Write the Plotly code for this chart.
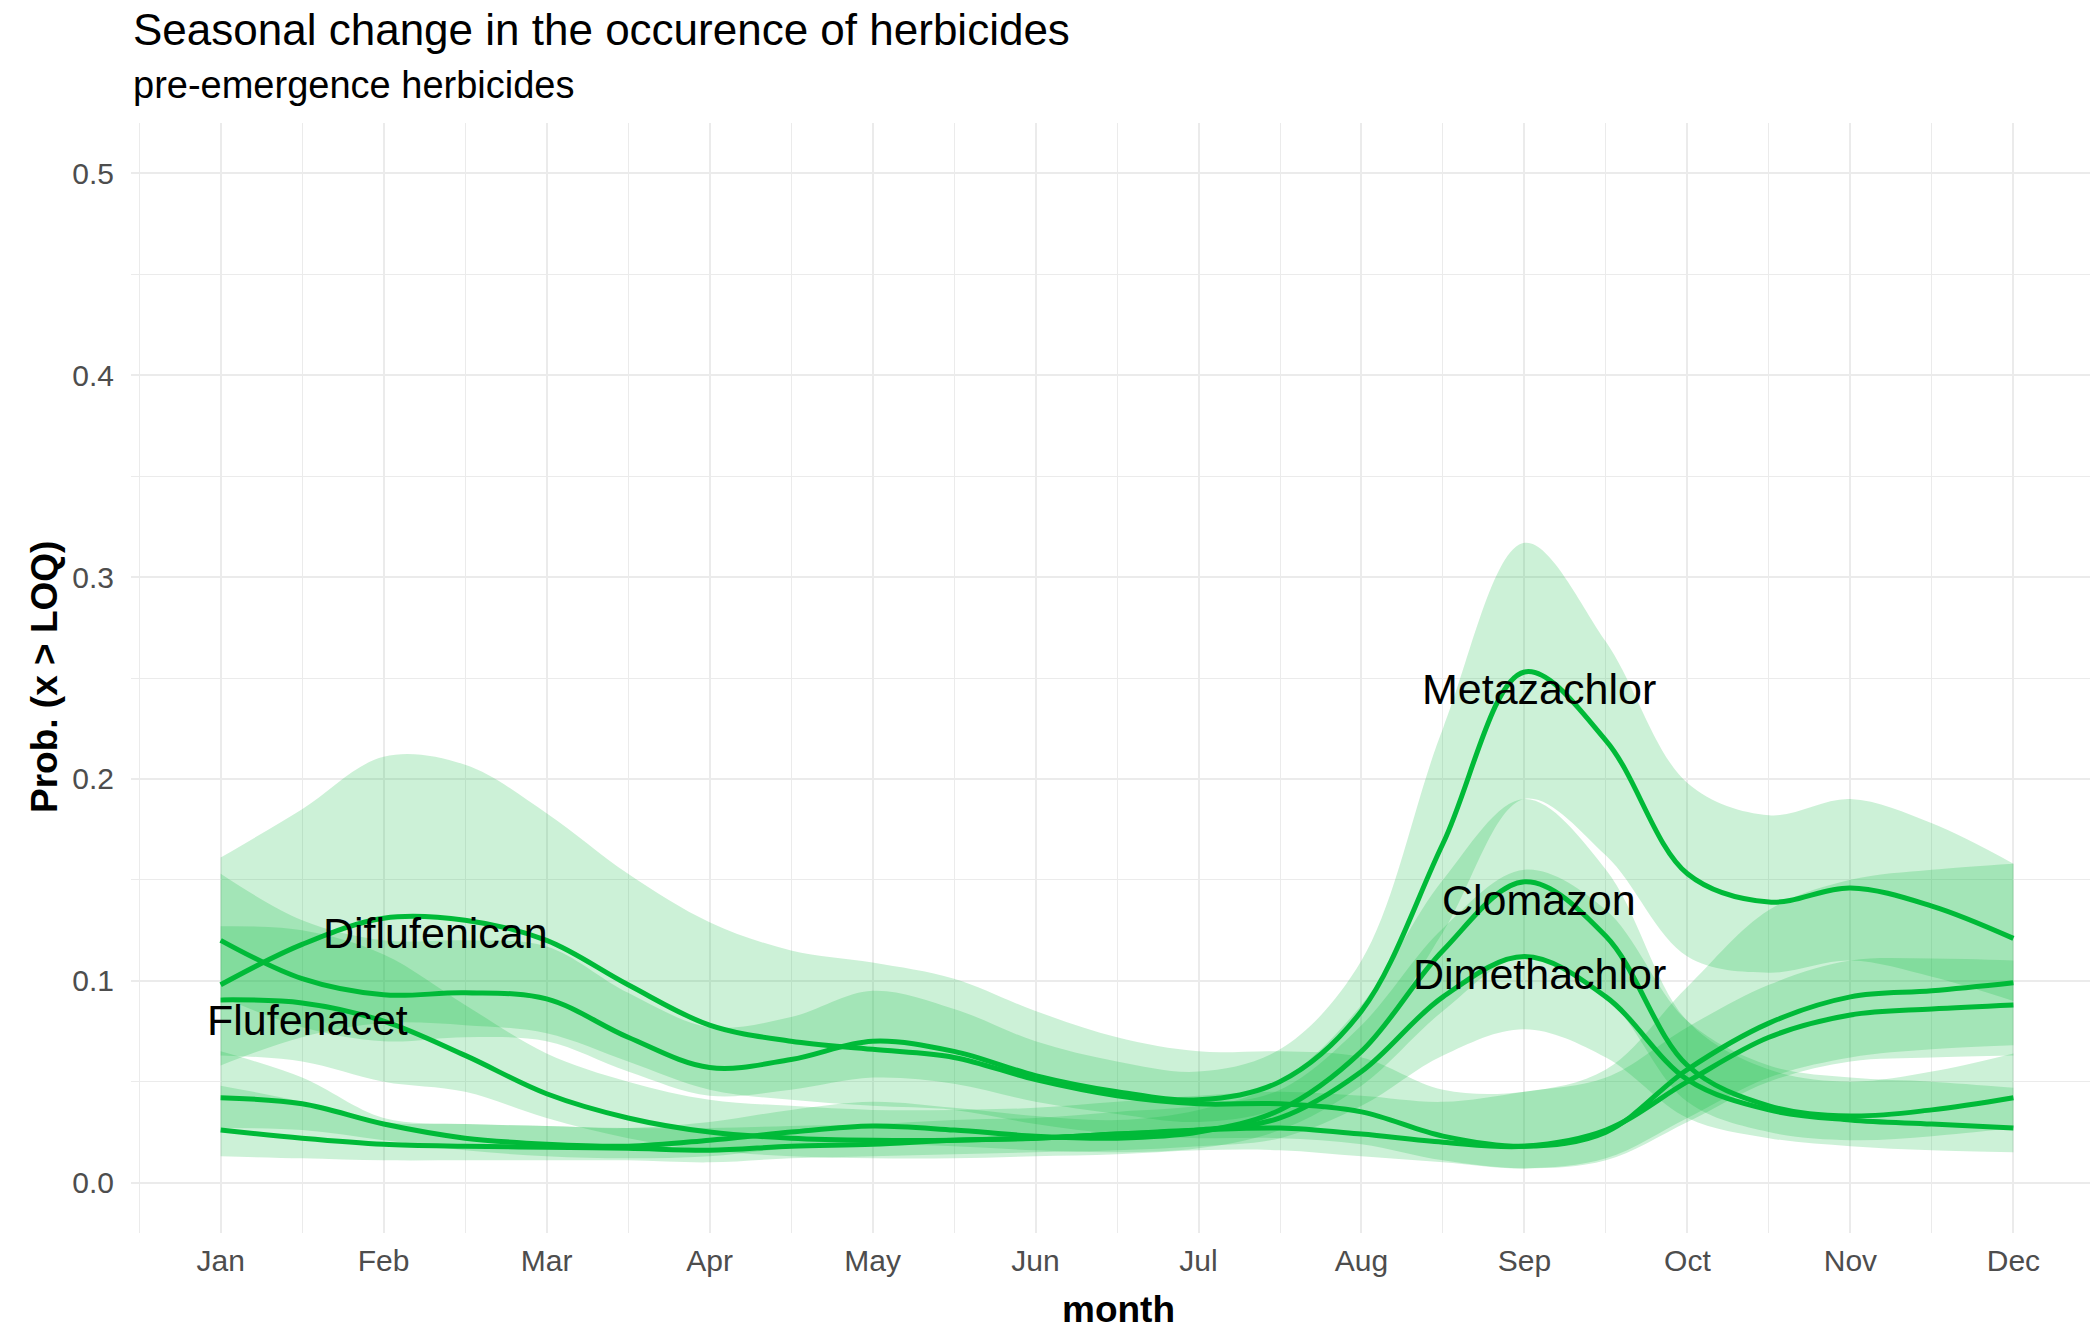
import plotly.graph_objects as go

# ---- data -----------------------------------------------------------------
months = [1, 1.5, 2, 2.5, 3, 3.5, 4, 4.5, 5, 5.5, 6, 6.5,
          7, 7.5, 8, 8.5, 9, 9.5, 10, 10.5, 11, 11.5, 12]
month_ticks = [1, 2, 3, 4, 5, 6, 7, 8, 9, 10, 11, 12]
month_labels = ["Jan", "Feb", "Mar", "Apr", "May", "Jun",
                "Jul", "Aug", "Sep", "Oct", "Nov", "Dec"]
prob_ticks = [0.0, 0.1, 0.2, 0.3, 0.4, 0.5]

metazachlor_fit = [0.120, 0.101, 0.093, 0.094, 0.091, 0.072, 0.057, 0.061, 0.070, 0.065, 0.053, 0.045,
                   0.041, 0.050, 0.085, 0.168, 0.253, 0.219, 0.153, 0.139, 0.146, 0.137, 0.121]
metazachlor_lo = [0.092, 0.077, 0.070, 0.072, 0.070, 0.055, 0.043, 0.046, 0.052, 0.049, 0.040, 0.034,
                  0.030, 0.037, 0.064, 0.124, 0.190, 0.162, 0.112, 0.104, 0.110, 0.102, 0.090]
metazachlor_hi = [0.153, 0.130, 0.120, 0.120, 0.117, 0.094, 0.077, 0.082, 0.095, 0.086, 0.070, 0.060,
                  0.055, 0.066, 0.110, 0.225, 0.317, 0.268, 0.198, 0.182, 0.190, 0.178, 0.158]

diflufenican_fit = [0.098, 0.118, 0.131, 0.130, 0.120, 0.098, 0.078, 0.070, 0.066, 0.062, 0.051, 0.043,
                    0.039, 0.039, 0.035, 0.023, 0.018, 0.025, 0.056, 0.079, 0.092, 0.095, 0.099]
diflufenican_lo = [0.058, 0.072, 0.079, 0.078, 0.074, 0.060, 0.046, 0.041, 0.038, 0.036, 0.029, 0.024,
                   0.022, 0.022, 0.019, 0.011, 0.007, 0.011, 0.030, 0.050, 0.060, 0.062, 0.063]
diflufenican_hi = [0.161, 0.185, 0.211, 0.207, 0.183, 0.153, 0.129, 0.115, 0.109, 0.101, 0.085, 0.072,
                   0.065, 0.065, 0.062, 0.046, 0.045, 0.056, 0.097, 0.135, 0.150, 0.155, 0.158]

flufenacet_fit = [0.0905, 0.089, 0.080, 0.063, 0.044, 0.032, 0.025, 0.022, 0.021, 0.021, 0.022, 0.024,
                  0.026, 0.027, 0.024, 0.020, 0.018, 0.026, 0.050, 0.072, 0.083, 0.086, 0.088]
flufenacet_lo = [0.063, 0.060, 0.050, 0.045, 0.032, 0.022, 0.016, 0.013, 0.012, 0.012, 0.013, 0.014,
                 0.016, 0.016, 0.013, 0.010, 0.007, 0.012, 0.032, 0.052, 0.062, 0.066, 0.068]
flufenacet_hi = [0.127, 0.125, 0.113, 0.088, 0.064, 0.050, 0.041, 0.038, 0.036, 0.036, 0.037, 0.040,
                 0.043, 0.045, 0.043, 0.040, 0.045, 0.052, 0.077, 0.098, 0.110, 0.111, 0.110]

clomazon_fit = [0.042, 0.039, 0.029, 0.022, 0.019, 0.018, 0.021, 0.025, 0.028, 0.026, 0.023, 0.022,
                0.025, 0.036, 0.065, 0.115, 0.149, 0.122, 0.058, 0.038, 0.033, 0.036, 0.042]
clomazon_lo = [0.027, 0.026, 0.021, 0.016, 0.013, 0.012, 0.013, 0.017, 0.019, 0.018, 0.016, 0.015,
               0.017, 0.026, 0.048, 0.085, 0.112, 0.092, 0.040, 0.025, 0.021, 0.023, 0.027]
clomazon_hi = [0.065, 0.052, 0.032, 0.029, 0.028, 0.027, 0.030, 0.036, 0.040, 0.037, 0.033, 0.031,
               0.036, 0.050, 0.088, 0.150, 0.190, 0.155, 0.080, 0.056, 0.050, 0.055, 0.064]

dimethachlor_fit = [0.026, 0.022, 0.019, 0.018, 0.0175, 0.017, 0.016, 0.018, 0.019, 0.021, 0.022, 0.024,
                    0.026, 0.032, 0.055, 0.092, 0.112, 0.092, 0.051, 0.036, 0.031, 0.029, 0.027]
dimethachlor_lo = [0.013, 0.012, 0.011, 0.011, 0.011, 0.011, 0.010, 0.012, 0.013, 0.014, 0.015, 0.016,
                   0.018, 0.022, 0.038, 0.063, 0.076, 0.062, 0.032, 0.022, 0.018, 0.016, 0.015]
dimethachlor_hi = [0.048, 0.040, 0.030, 0.029, 0.028, 0.027, 0.027, 0.028, 0.029, 0.031, 0.032, 0.035,
                   0.038, 0.046, 0.078, 0.126, 0.155, 0.135, 0.080, 0.058, 0.052, 0.050, 0.047]

herbicides = ["Metazachlor", "Diflufenican", "Flufenacet", "Clomazon", "Dimethachlor"]
fits = [metazachlor_fit, diflufenican_fit, flufenacet_fit, clomazon_fit, dimethachlor_fit]
lows = [metazachlor_lo, diflufenican_lo, flufenacet_lo, clomazon_lo, dimethachlor_lo]
highs = [metazachlor_hi, diflufenican_hi, flufenacet_hi, clomazon_hi, dimethachlor_hi]

# label anchor positions (month, probability) for each herbicide name
label_month = [9.09, 2.32, 1.53, 9.09, 9.09]
label_prob = [0.2445, 0.1235, 0.0805, 0.1400, 0.1035]

# ---- styling --------------------------------------------------------------
GREEN = "#00BA38"
RIBBON = "rgba(0,186,56,0.2)"
FONT = "Liberation Sans"
W, H = 2090, 1330
L, R, T, B = 131, 0, 123, 97

fig = go.Figure()

# confidence ribbons first, lines on top
for lo, hi in zip(lows, highs):
    fig.add_trace(go.Scatter(x=months, y=lo, mode="lines",
                             line=dict(width=0, shape="spline", color=RIBBON),
                             hoverinfo="skip", showlegend=False))
    fig.add_trace(go.Scatter(x=months, y=hi, mode="lines", fill="tonexty",
                             fillcolor=RIBBON,
                             line=dict(width=0, shape="spline", color=RIBBON),
                             hoverinfo="skip", showlegend=False))

for name, fit in zip(herbicides, fits):
    fig.add_trace(go.Scatter(x=months, y=fit, mode="lines", name=name,
                             line=dict(width=5, shape="spline", color=GREEN),
                             showlegend=False))

for name, mx, py in zip(herbicides, label_month, label_prob):
    fig.add_annotation(x=mx, y=py, xref="x", yref="y", text=name, showarrow=False,
                       font=dict(family=FONT, size=43, color="#000000"),
                       xanchor="center", yanchor="middle")


def px_x(p):
    return (p - L) / (W - L - R)


def px_y(p):
    return (H - B - p) / (H - B - T)


# title, subtitle and axis titles
fig.add_annotation(x=px_x(131), y=px_y(30), xref="paper", yref="paper",
                   text="Seasonal change in the occurence of herbicides", showarrow=False,
                   font=dict(family=FONT, size=44, color="#000000"),
                   xanchor="left", yanchor="middle")
fig.add_annotation(x=px_x(131), y=px_y(85), xref="paper", yref="paper",
                   text="pre-emergence herbicides", showarrow=False,
                   font=dict(family=FONT, size=38, color="#000000"),
                   xanchor="left", yanchor="middle")
fig.add_annotation(x=px_x(1118), y=px_y(1309), xref="paper", yref="paper",
                   text="<b>month</b>", showarrow=False,
                   font=dict(family=FONT, size=37, color="#000000"),
                   xanchor="center", yanchor="middle")
fig.add_annotation(x=px_x(44), y=px_y(677), xref="paper", yref="paper",
                   text="<b>Prob. (x &gt; LOQ)</b>", showarrow=False, textangle=-90,
                   font=dict(family=FONT, size=37, color="#000000"),
                   xanchor="center", yanchor="middle")

GRID = "#EBEBEB"
fig.update_xaxes(range=[0.45, 12.47], tickvals=month_ticks, ticktext=month_labels,
                 showgrid=True, gridcolor=GRID, gridwidth=2.2, zeroline=False,
                 showline=False, ticks="outside", ticklen=1, tickcolor="rgba(0,0,0,0)",
                 tickfont=dict(family=FONT, size=30, color="#4D4D4D"),
                 minor=dict(tickvals=[m + 0.5 for m in range(0, 13)], showgrid=True,
                            gridcolor=GRID, gridwidth=1.1))
fig.update_yaxes(range=[-0.025, 0.525], tickvals=prob_ticks,
                 tickformat=".1f",
                 showgrid=True, gridcolor=GRID, gridwidth=2.2, zeroline=False,
                 showline=False, ticks="outside", ticklen=10, tickcolor="rgba(0,0,0,0)",
                 tickfont=dict(family=FONT, size=30, color="#4D4D4D"),
                 minor=dict(tickvals=[0.05, 0.15, 0.25, 0.35, 0.45], showgrid=True,
                            gridcolor=GRID, gridwidth=1.1))

fig.update_layout(width=W, height=H, margin=dict(l=L, r=R, t=T, b=B),
                  plot_bgcolor="white", paper_bgcolor="white", showlegend=False,
                  font=dict(family=FONT))

fig.write_html("out.html")
